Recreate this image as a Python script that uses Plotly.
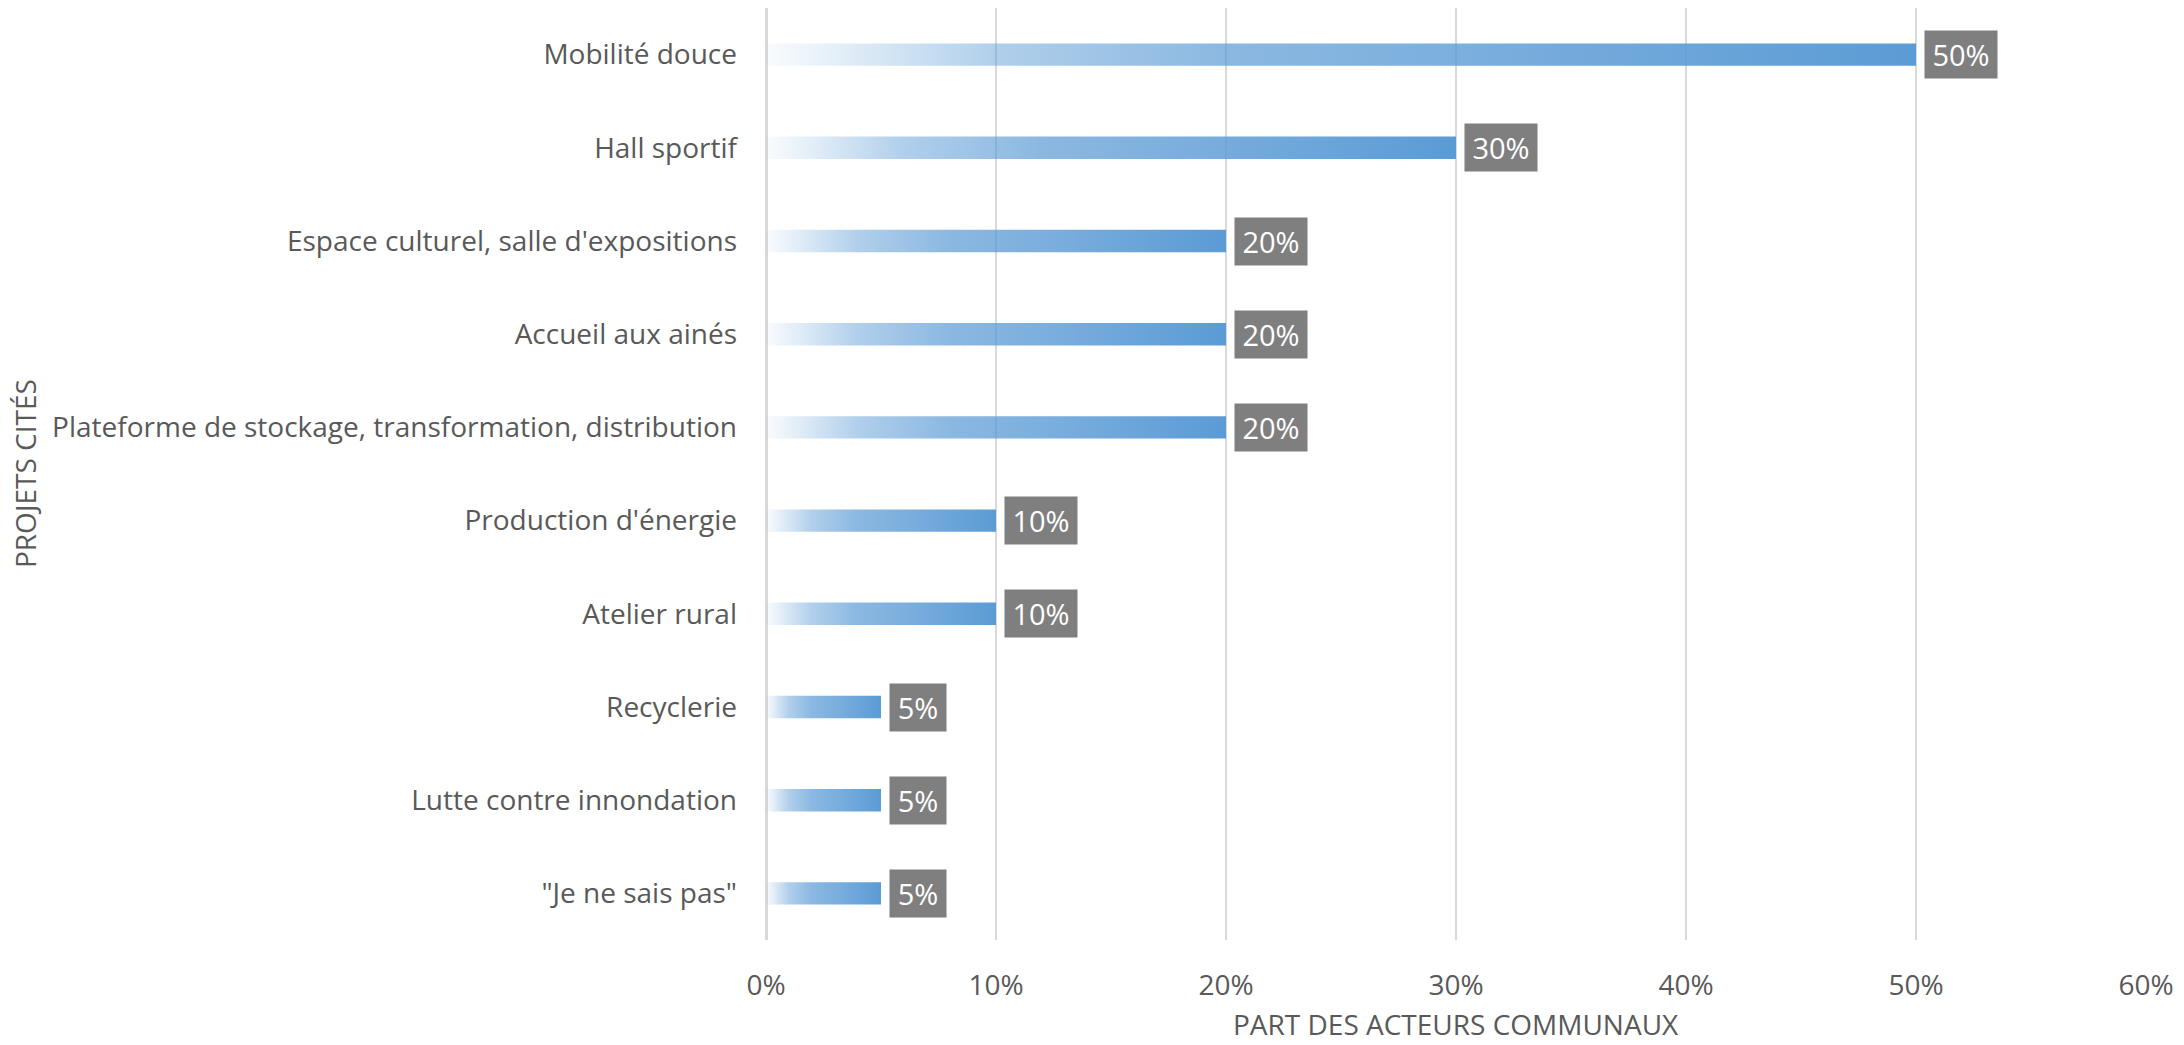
import plotly.graph_objects as go

categories = [
    "Mobilité douce",
    "Hall sportif",
    "Espace culturel, salle d'expositions",
    "Accueil aux ainés",
    "Plateforme de stockage, transformation, distribution",
    "Production d'énergie",
    "Atelier rural",
    "Recyclerie",
    "Lutte contre innondation",
    "\"Je ne sais pas\"",
]
values = [0.50, 0.30, 0.20, 0.20, 0.20, 0.10, 0.10, 0.05, 0.05, 0.05]

x_title = "PART DES ACTEURS COMMUNAUX"
y_title = "PROJETS CITÉS"

FONT = "Open Sans"
TXT = "#595959"
BLUE = "91,155,213"
half = 0.12

gradient = [
    [0.0, f"rgba({BLUE},0.03)"],
    [0.1, f"rgba({BLUE},0.25)"],
    [0.2, f"rgba({BLUE},0.48)"],
    [0.4, f"rgba({BLUE},0.71)"],
    [0.6, f"rgba({BLUE},0.80)"],
    [1.0, f"rgba({BLUE},1.0)"],
]

fig = go.Figure()
annotations = []
for i, (cat, v) in enumerate(zip(categories, values)):
    fig.add_trace(go.Scatter(
        x=[0, v, v, 0, 0],
        y=[i - half, i - half, i + half, i + half, i - half],
        mode="lines",
        line=dict(width=0),
        fill="toself",
        fillgradient=dict(type="horizontal", colorscale=gradient),
        hoverinfo="skip",
        showlegend=False,
    ))
    label = f"{v:.0%}"
    annotations.append(dict(
        x=v, y=i, xref="x", yref="y",
        text=label, showarrow=False,
        xanchor="left", yanchor="middle", xshift=8,
        width=16 * len(label) + 16, align="center",
        font=dict(family=FONT, size=29, color="white"),
        bgcolor="#7f7f7f", borderpad=4,
    ))

# axis titles
annotations.append(dict(
    x=0.5, y=0, xref="paper", yref="paper", yshift=-84,
    xanchor="center", yanchor="middle", text=x_title, showarrow=False,
    font=dict(family=FONT, size=28, color=TXT),
))
annotations.append(dict(
    x=0, y=0.5, xref="paper", yref="paper", xshift=-741,
    xanchor="center", yanchor="middle", text=y_title, showarrow=False,
    textangle=-90, font=dict(family=FONT, size=28, color=TXT),
))

fig.update_layout(
    width=2184, height=1045,
    margin=dict(l=766, r=38, t=8, b=105),
    paper_bgcolor="white", plot_bgcolor="white",
    font=dict(family=FONT, size=28, color=TXT),
    annotations=annotations,
    showlegend=False,
)
fig.update_xaxes(
    range=[0, 0.6], dtick=0.1, tickformat=".0%",
    showgrid=True, gridcolor="#d9d9d9", gridwidth=2,
    zeroline=True, zerolinecolor="#d9d9d9", zerolinewidth=3,
    showline=False, ticks="", ticklabelstandoff=26, automargin=False,
    tickfont=dict(family=FONT, size=28, color=TXT),
)
fig.update_yaxes(
    range=[9.5, -0.5], tickvals=list(range(len(categories))), ticktext=categories,
    showgrid=False, zeroline=False, showline=False, ticks="",
    ticklabelstandoff=28, automargin=False,
    tickfont=dict(family=FONT, size=28, color=TXT),
)

fig.write_html(
    "out.html",
    config={"displayModeBar": False},
    post_script="document.body.style.margin='0';document.body.style.overflow='hidden';",
)
